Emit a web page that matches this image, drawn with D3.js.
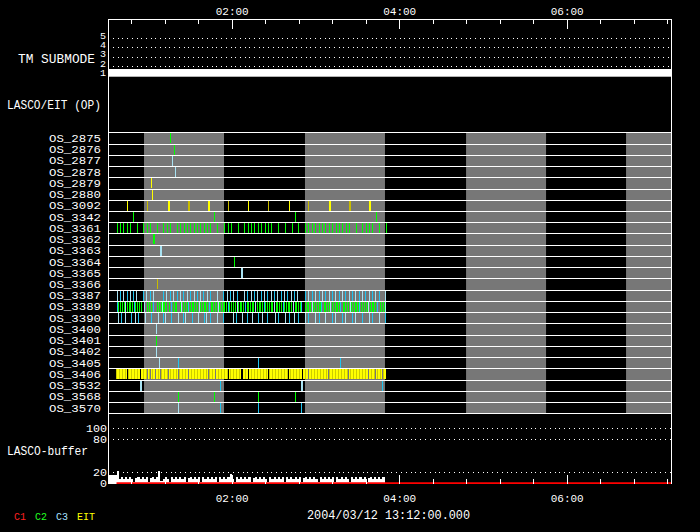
<!DOCTYPE html>
<html><head><meta charset="utf-8">
<script src="https://cdn.jsdelivr.net/npm/d3@7"></script>
<style>body{margin:0;background:#000}svg{display:block}</style>
</head><body>
<svg id="chart" width="700" height="532"></svg>
<script>
// ---------------- DATA (time in minutes after 00:00) ----------------
const xDomain = [31.4, 434.7];
const majorTicks = [120, 240, 360];
const majorTickLabels = ["02:00", "04:00", "06:00"];
const minorTicks = [48, 72, 96, 144, 168, 192, 216, 264, 288, 312, 336, 384, 408, 432];
const submodeTicks = [1, 2, 3, 4, 5];
const submodeValue = 1;
const bufferTicks = [0, 20, 80, 100];
const grayIntervals = [[57.2, 114.5], [172.5, 229.8], [287.9, 345.2], [402.5, 434.7]];
const osLabels = ["OS_2875","OS_2876","OS_2877","OS_2878","OS_2879","OS_2880","OS_3092","OS_3342",
  "OS_3361","OS_3362","OS_3363","OS_3364","OS_3365","OS_3366","OS_3387","OS_3389","OS_3390",
  "OS_3400","OS_3401","OS_3402","OS_3405","OS_3406","OS_3532","OS_3568","OS_3570"];
// [row, camera, time, exposure duration]
const sparseExposures = [
  ["OS_2875","C2",75.9,0.5],["OS_2876","C2",78.7,0.5],["OS_2877","C3L",77.3,0.5],["OS_2878","C3L",79.5,0.5],
  ["OS_2879","EIT",62.2,0.5],["OS_2880","EIT",62.9,0.5],
  ["OS_3092","EIT",45.0,0.5],["OS_3092","EITD",59.3,0.5],["OS_3092","EIT",74.2,1.4],["OS_3092","EITD",88.6,1.4],
  ["OS_3092","EIT",103.0,1.4],["OS_3092","EITD",117.5,0.5],["OS_3092","EIT",131.9,0.5],["OS_3092","EITD",146.3,0.5],
  ["OS_3092","EIT",160.7,0.5],["OS_3092","EITD",175.0,0.5],["OS_3092","EIT",189.7,1.4],["OS_3092","EITD",204.1,1.4],
  ["OS_3092","EIT",218.4,1.4],
  ["OS_3342","C2",49.3,0.5],["OS_3342","C2",107.5,0.5],["OS_3342","C2",165.0,0.5],["OS_3342","C2",223.2,0.5],
  ["OS_3362","C2",63.9,1.4],["OS_3363","C3L",68.5,1.4],["OS_3364","C2",121.9,0.5],["OS_3365","C3L",126.5,1.4],
  ["OS_3366","EITD",66.5,0.5],
  ["OS_3400","C3L",65.8,0.5],["OS_3401","C2",65.8,0.5],["OS_3402","C3L",65.8,0.5],
  ["OS_3405","C3L",68.0,0.5],["OS_3405","C3",81.6,0.5],["OS_3405","C3",139.1,0.5],["OS_3405","C3",197.3,0.5],
  ["OS_3532","C3L",54.1,1.4],["OS_3532","C3",111.8,0.5],["OS_3532","C3L",169.8,1.4],["OS_3532","C3",227.5,0.5],
  ["OS_3568","C2",81.6,0.5],["OS_3568","C2",107.5,0.5],["OS_3568","C2",139.1,0.5],["OS_3568","C2",165.0,0.5],
  ["OS_3570","C3L",81.6,0.5],["OS_3570","C3",111.8,0.5],["OS_3570","C3",139.1,0.5],["OS_3570","C3",169.3,0.5]
];
const os3361C2 = [37.8,39.9,42.2,44.8,47.3,52.2,56.6,59.1,61.5,66.3,70.8,73.7,75.9,80.8,83.2,85.6,88.1,90.4,92.8,
  95.3,97.6,100.1,102.5,104.8,109.6,114.8,117.1,119.6,124.2,129.0,131.5,133.9,136.2,138.7,141.3,143.7,146.1,148.4,
  153.3,158.3,163.1,167.8,172.4,174.8,177.2,179.8,182.2,184.7,187.0,189.7,192.1,194.4,196.9,199.2,201.6,204.3,
  209.1,213.6,216.3,218.4,220.8,225.6,230.6];
const os3387C3 = [37.6,39.7,42.4,44.8,47.1,49.6,51.7,56.8,58.9,61.5,63.7,70.8,73.3,75.9,78.0,80.7,83.1,85.2,87.9,
  90.0,92.7,94.8,97.2,99.6,102.0,104.6,109.2,113.9,116.4,118.8,121.1,123.8,128.8,131.2,133.6,136.0,138.4,140.8,
  143.2,145.6,148.0,150.4,152.8,155.2,157.6,159.9,162.4,164.8,167.1,172.7,175.0,177.5,179.8,182.2,184.7,187.0,
  189.4,191.8,194.2,196.6,199.0,201.4,203.8,206.2,208.6,211.0,213.4,215.8,218.1,220.6,223.0,225.3,229.6];
const os3389C2 = [37.6,38.8,40.1,41.3,42.6,44.9,46.1,47.4,48.6,51.0,52.2,53.5,54.7,59.5,60.8,62.0,66.8,68.0,69.3,
  70.5,71.8,73.0,75.4,76.6,77.9,79.1,80.4,82.8,84.0,85.3,86.5,87.8,90.2,91.4,92.6,93.9,95.1,97.5,98.8,100.0,101.2,
  102.5,104.9,106.1,107.4,108.6,111.0,112.3,113.5,114.8,116.0,118.4,119.6,120.9,122.1,124.5,125.8,127.0,128.3,
  130.7,131.9,133.1,134.4,135.6,138.0,139.3,140.5,141.8,144.2,145.4,146.6,147.9,149.1,151.5,152.8,154.0,155.3,
  157.7,158.9,160.1,161.4,162.6,165.0,166.3,167.5,168.8,172.4,173.6,174.9,176.1,178.5,179.8,181.0,182.2,183.5,
  185.9,187.1,188.4,189.6,192.0,193.3,194.5,195.7,197.0,199.4,200.6,201.9,203.1,205.5,206.8,208.0,209.2,210.5,
  212.9,214.1,215.4,216.6,219.0,220.3,221.5,222.7,224.0,226.4,227.6,228.9,230.1];
const os3389C3 = [37.8,43.8,50.0,57.0,63.8,70.0,76.8,83.5,89.0,96.3,103.7,110.0,117.2,123.6,129.8,137.0,143.0,
  150.0,156.5,163.6,170.0,177.3,184.0,190.5,197.8,204.5,211.2,217.6,224.2,229.8];
const os3390C3 = [38.3,40.4,43.8,47.8,50.5,53.2,57.7,62.5,67.2,70.8,72.3,76.6,81.4,84.8,86.9,91.5,95.8,99.9,101.5,
  104.6,109.2,113.5,120.7,123.3,127.2,130.8,134.4,139.1,141.5,145.1,151.1,153.5,158.3,160.7,164.3,167.8,172.7,
  175.0,179.8,182.2,187.0,191.8,194.2,199.0,201.4,206.2,208.6,213.4,218.1,220.6,225.3,229.6];
// continuous EIT coverage segments for OS_3406 [start, end]
const os3406EIT = [[36.9,44.8],[45.5,54.1],[54.8,59.1],[59.8,61.3],[62.0,64.9],[65.6,68.5],[69.2,74.2],[74.9,81.4],
  [82.1,88.6],[89.3,103.0],[103.7,108.0],[108.7,117.3],[118.1,127.0],[127.8,131.7],[132.4,146.1],[146.8,160.4],
  [161.2,170.1],[170.9,174.8],[175.5,189.2],[189.9,203.6],[204.3,217.9],[218.6,223.0],[223.7,227.6],[228.3,230.5]];
// LASCO buffer fill level
const bufferStart = [31.4, 15];
const bufferT0 = 37.5, bufferDt = 1.5;
const bufferValues = [22,8,12,8,11,7,12,8,3,9, 12,8,12,7,11,3,9,12,8,12, 22,4,8,12,8,3,12,8,11,8,
  12,7,12,3,9,12,8,12,8,11, 3,12,8,12,7,12,8,11,3,12, 8,12,8,12,17,8,3,12,8,12,
  8,11,7,12,3,9,12,8,12,8, 11,7,3,12,8,12,8,12,7,11, 3,12,8,12,8,11,8,12,3,9,
  12,8,12,7,11,8,3,12,8,12, 8,12,7,11,3,12,8,12,8,12, 8,3,12,8,11,8,12,7,12,3,
  9,12,8,12,8,11,7,12,0];
const c1Buffer = [[37.5, 0], [434.7, 0]];
const legendItems = ["C1", "C2", "C3", "EIT"];
const dateLabel = "2004/03/12 13:12:00.000";

// ---------------- STYLE ----------------
const camColor = {C1:"#ff0000", C2:"#00ff00", C3:"#1ec4f0", C3L:"#a8e2f2", EIT:"#ffff00", EITD:"#c8bc00"};
const legendColor = {C1:"#ff2020", C2:"#20ff20", C3:"#a8e0ff", EIT:"#ffff00"};
const FONT = "'Liberation Mono', 'DejaVu Sans Mono', monospace";

const svg = d3.select("#chart");
svg.append("rect").attr("width", 700).attr("height", 532).attr("fill", "#000");

const x = d3.scaleLinear().domain(xDomain).range([108, 671]);
const ySub = d3.scaleLinear().domain([1, 5]).range([75.5, 38]);
const yRow = d3.scaleBand().domain(osLabels).range([132.3, 413.3]);
const yBuf = d3.scaleLinear().domain([0, 100]).range([483.3, 428.3]);
const X0 = x.range()[0], X1 = x.range()[1];

const defs = svg.append("defs");
const pat = defs.append("pattern").attr("id", "eitStripe").attr("patternUnits", "userSpaceOnUse")
  .attr("width", 3).attr("height", 20);
pat.append("rect").attr("width", 3).attr("height", 20).attr("fill", "#ffff00");
pat.append("rect").attr("x", 2).attr("width", 1).attr("height", 20).attr("fill", "#cccc00");

// gray shading
svg.append("g").selectAll("rect").data(grayIntervals).join("rect")
  .attr("x", d => x(d[0])).attr("width", d => x(d[1]) - x(d[0]))
  .attr("y", yRow.range()[0]).attr("height", yRow.range()[1] - yRow.range()[0])
  .attr("fill", "#777777");

// row lines
const rowLines = osLabels.map(l => yRow(l)).concat([yRow.range()[1]]);
svg.append("g").selectAll("line").data(rowLines).join("line")
  .attr("x1", X0).attr("x2", X1)
  .attr("y1", d => Math.round(d) + 0.5).attr("y2", d => Math.round(d) + 0.5)
  .attr("stroke", "#fff").attr("stroke-width", 1).attr("shape-rendering", "crispEdges");

// exposures
const marks = [];
sparseExposures.forEach(d => marks.push({row: d[0], cam: d[1], t: d[2], dur: d[3]}));
os3361C2.forEach(t => marks.push({row: "OS_3361", cam: "C2", t, dur: 0.5}));
os3387C3.forEach((t, i) => marks.push({row: "OS_3387", cam: i % 2 ? "C3" : "C3L", t, dur: 0.5}));
os3389C2.forEach(t => marks.push({row: "OS_3389", cam: "C2", t, dur: 0.5}));
os3389C3.forEach((t, i) => marks.push({row: "OS_3389", cam: i % 2 ? "C3L" : "C3", t, dur: 0.5}));
os3390C3.forEach((t, i) => marks.push({row: "OS_3390", cam: i % 2 ? "C3" : "C3L", t, dur: 0.5}));

const bandTop = l => Math.round(yRow(l)) + 1;
const bandH = yRow.bandwidth() - 1.3;
svg.append("g").selectAll("rect").data(os3406EIT).join("rect")
  .attr("x", d => x(d[0])).attr("width", d => x(d[1]) - x(d[0]))
  .attr("y", bandTop("OS_3406")).attr("height", bandH)
  .attr("fill", "url(#eitStripe)").attr("shape-rendering", "crispEdges");
svg.append("g").selectAll("rect").data(marks).join("rect")
  .attr("x", d => x(d.t)).attr("width", d => Math.max(1, x(d.t + d.dur) - x(d.t)))
  .attr("y", d => bandTop(d.row)).attr("height", bandH)
  .attr("fill", d => camColor[d.cam]).attr("shape-rendering", "crispEdges");

// TM submode panel
svg.append("g").selectAll("line").data(submodeTicks.filter(v => v > 1)).join("line")
  .attr("x1", X0 + 5).attr("x2", X1).attr("y1", d => Math.round(ySub(d)) + 0.5).attr("y2", d => Math.round(ySub(d)) + 0.5)
  .attr("stroke", "#fff").attr("stroke-dasharray", "1 3.7").attr("shape-rendering", "crispEdges");
svg.append("rect").attr("x", X0).attr("width", X1 - X0)
  .attr("y", ySub(submodeValue) - 6.5).attr("height", 7.7).attr("fill", "#fff");
svg.append("g").selectAll("text").data(submodeTicks).join("text")
  .attr("x", 106).attr("y", d => ySub(d) + 0.5).attr("text-anchor", "end")
  .attr("fill", "#fff").style("font", `9px ${FONT}`)
  .attr("textLength", 6).attr("lengthAdjust", "spacingAndGlyphs").text(d => d);

// buffer panel
svg.append("g").selectAll("line").data(bufferTicks.filter(v => v > 0)).join("line")
  .attr("x1", X0 + 5).attr("x2", X1).attr("y1", d => Math.round(yBuf(d)) + 0.5).attr("y2", d => Math.round(yBuf(d)) + 0.5)
  .attr("stroke", "#fff").attr("stroke-dasharray", "1 3.8").attr("shape-rendering", "crispEdges");
svg.append("g").selectAll("text").data(bufferTicks).join("text")
  .attr("x", 107).attr("y", d => yBuf(d)).attr("dy", "0.36em").attr("text-anchor", "end")
  .attr("fill", "#fff").style("font", `10px ${FONT}`)
  .attr("textLength", d => String(d).length * 7).attr("lengthAdjust", "spacingAndGlyphs").text(d => d);
const bufData = [{t: bufferStart[0], v: bufferStart[1]}]
  .concat(bufferValues.map((v, i) => ({t: bufferT0 + i * bufferDt, v})));
svg.append("path").datum(bufData)
  .attr("d", d3.area().x(d => x(d.t)).y0(yBuf(0)).y1(d => yBuf(d.v)).curve(d3.curveStepAfter))
  .attr("fill", "#fff").attr("shape-rendering", "crispEdges");

// frame
const frame = svg.append("g").attr("stroke", "#fff").attr("stroke-width", 1).attr("shape-rendering", "crispEdges");
frame.append("line").attr("x1", X0).attr("x2", X1 + 0.5).attr("y1", 19.5).attr("y2", 19.5);
frame.append("line").attr("x1", X0 + 0.5).attr("x2", X0 + 0.5).attr("y1", 19.5).attr("y2", yBuf(0) + 0.5);
frame.append("line").attr("x1", X1 + 0.5).attr("x2", X1 + 0.5).attr("y1", 19.5).attr("y2", yBuf(0) + 0.5);
frame.append("line").attr("x1", X0).attr("x2", X1).attr("y1", 483.5).attr("y2", 483.5);
svg.append("path").datum(c1Buffer)
  .attr("d", d3.line().x(d => x(d[0])).y(d => yBuf(d[1]) - 0.2))
  .attr("stroke", camColor.C1).attr("stroke-width", 1.6).attr("fill", "none");

// axes
function styleAxis(g) {
  g.select(".domain").remove();
  g.selectAll("line").attr("stroke", "#fff").attr("shape-rendering", "crispEdges");
  g.selectAll("text").attr("fill", "#fff").style("font", `11px ${FONT}`);
}
const fmt = d => majorTickLabels[majorTicks.indexOf(d)];
svg.append("g").attr("transform", "translate(0,19.5)")
  .call(d3.axisTop(x).tickValues(majorTicks).tickSize(-9).tickPadding(5).tickFormat(fmt)).call(styleAxis);
svg.append("g").attr("transform", "translate(0,19.5)")
  .call(d3.axisTop(x).tickValues(minorTicks).tickSize(-4.5).tickFormat("")).call(styleAxis);
svg.append("g").attr("transform", "translate(0,483.5)")
  .call(d3.axisBottom(x).tickValues(majorTicks).tickSize(-9).tickPadding(10.5).tickFormat(fmt)).call(styleAxis);
svg.append("g").attr("transform", "translate(0,483.5)")
  .call(d3.axisBottom(x).tickValues(minorTicks).tickSize(-4.5).tickFormat("")).call(styleAxis);

// labels
svg.append("g").selectAll("text").data(osLabels).join("text")
  .attr("x", 101).attr("y", d => yRow(d) + yRow.bandwidth() / 2).attr("dy", "0.36em")
  .attr("text-anchor", "end").attr("fill", "#fff").style("font", `11px ${FONT}`)
  .attr("textLength", 52).attr("lengthAdjust", "spacingAndGlyphs").text(d => d);
const panelLabels = [["TM SUBMODE", 95, 62.5, 77, 13], ["LASCO/EIT (OP)", 101, 108.5, 94, 13], ["LASCO-buffer", 88, 454.5, 81, 12]];
svg.append("g").selectAll("text").data(panelLabels).join("text")
  .attr("x", d => d[1] - d[3]).attr("y", d => d[2]).attr("textLength", d => d[3]).attr("lengthAdjust", "spacingAndGlyphs")
  .attr("fill", "#fff").style("font", d => `${d[4]}px ${FONT}`).text(d => d[0]);

// legend
const legX = d3.scalePoint().domain(legendItems).range([14, 77]);
svg.append("g").selectAll("text").data(legendItems).join("text")
  .attr("x", d => legX(d)).attr("y", 520).attr("fill", d => legendColor[d])
  .style("font", `10px ${FONT}`).text(d => d);
svg.append("text").attr("x", 388.5).attr("y", 518.5).attr("text-anchor", "middle")
  .attr("fill", "#fff").style("font", `12px ${FONT}`).attr("textLength", 163).attr("lengthAdjust", "spacingAndGlyphs")
  .text(dateLabel);
</script>
</body></html>
